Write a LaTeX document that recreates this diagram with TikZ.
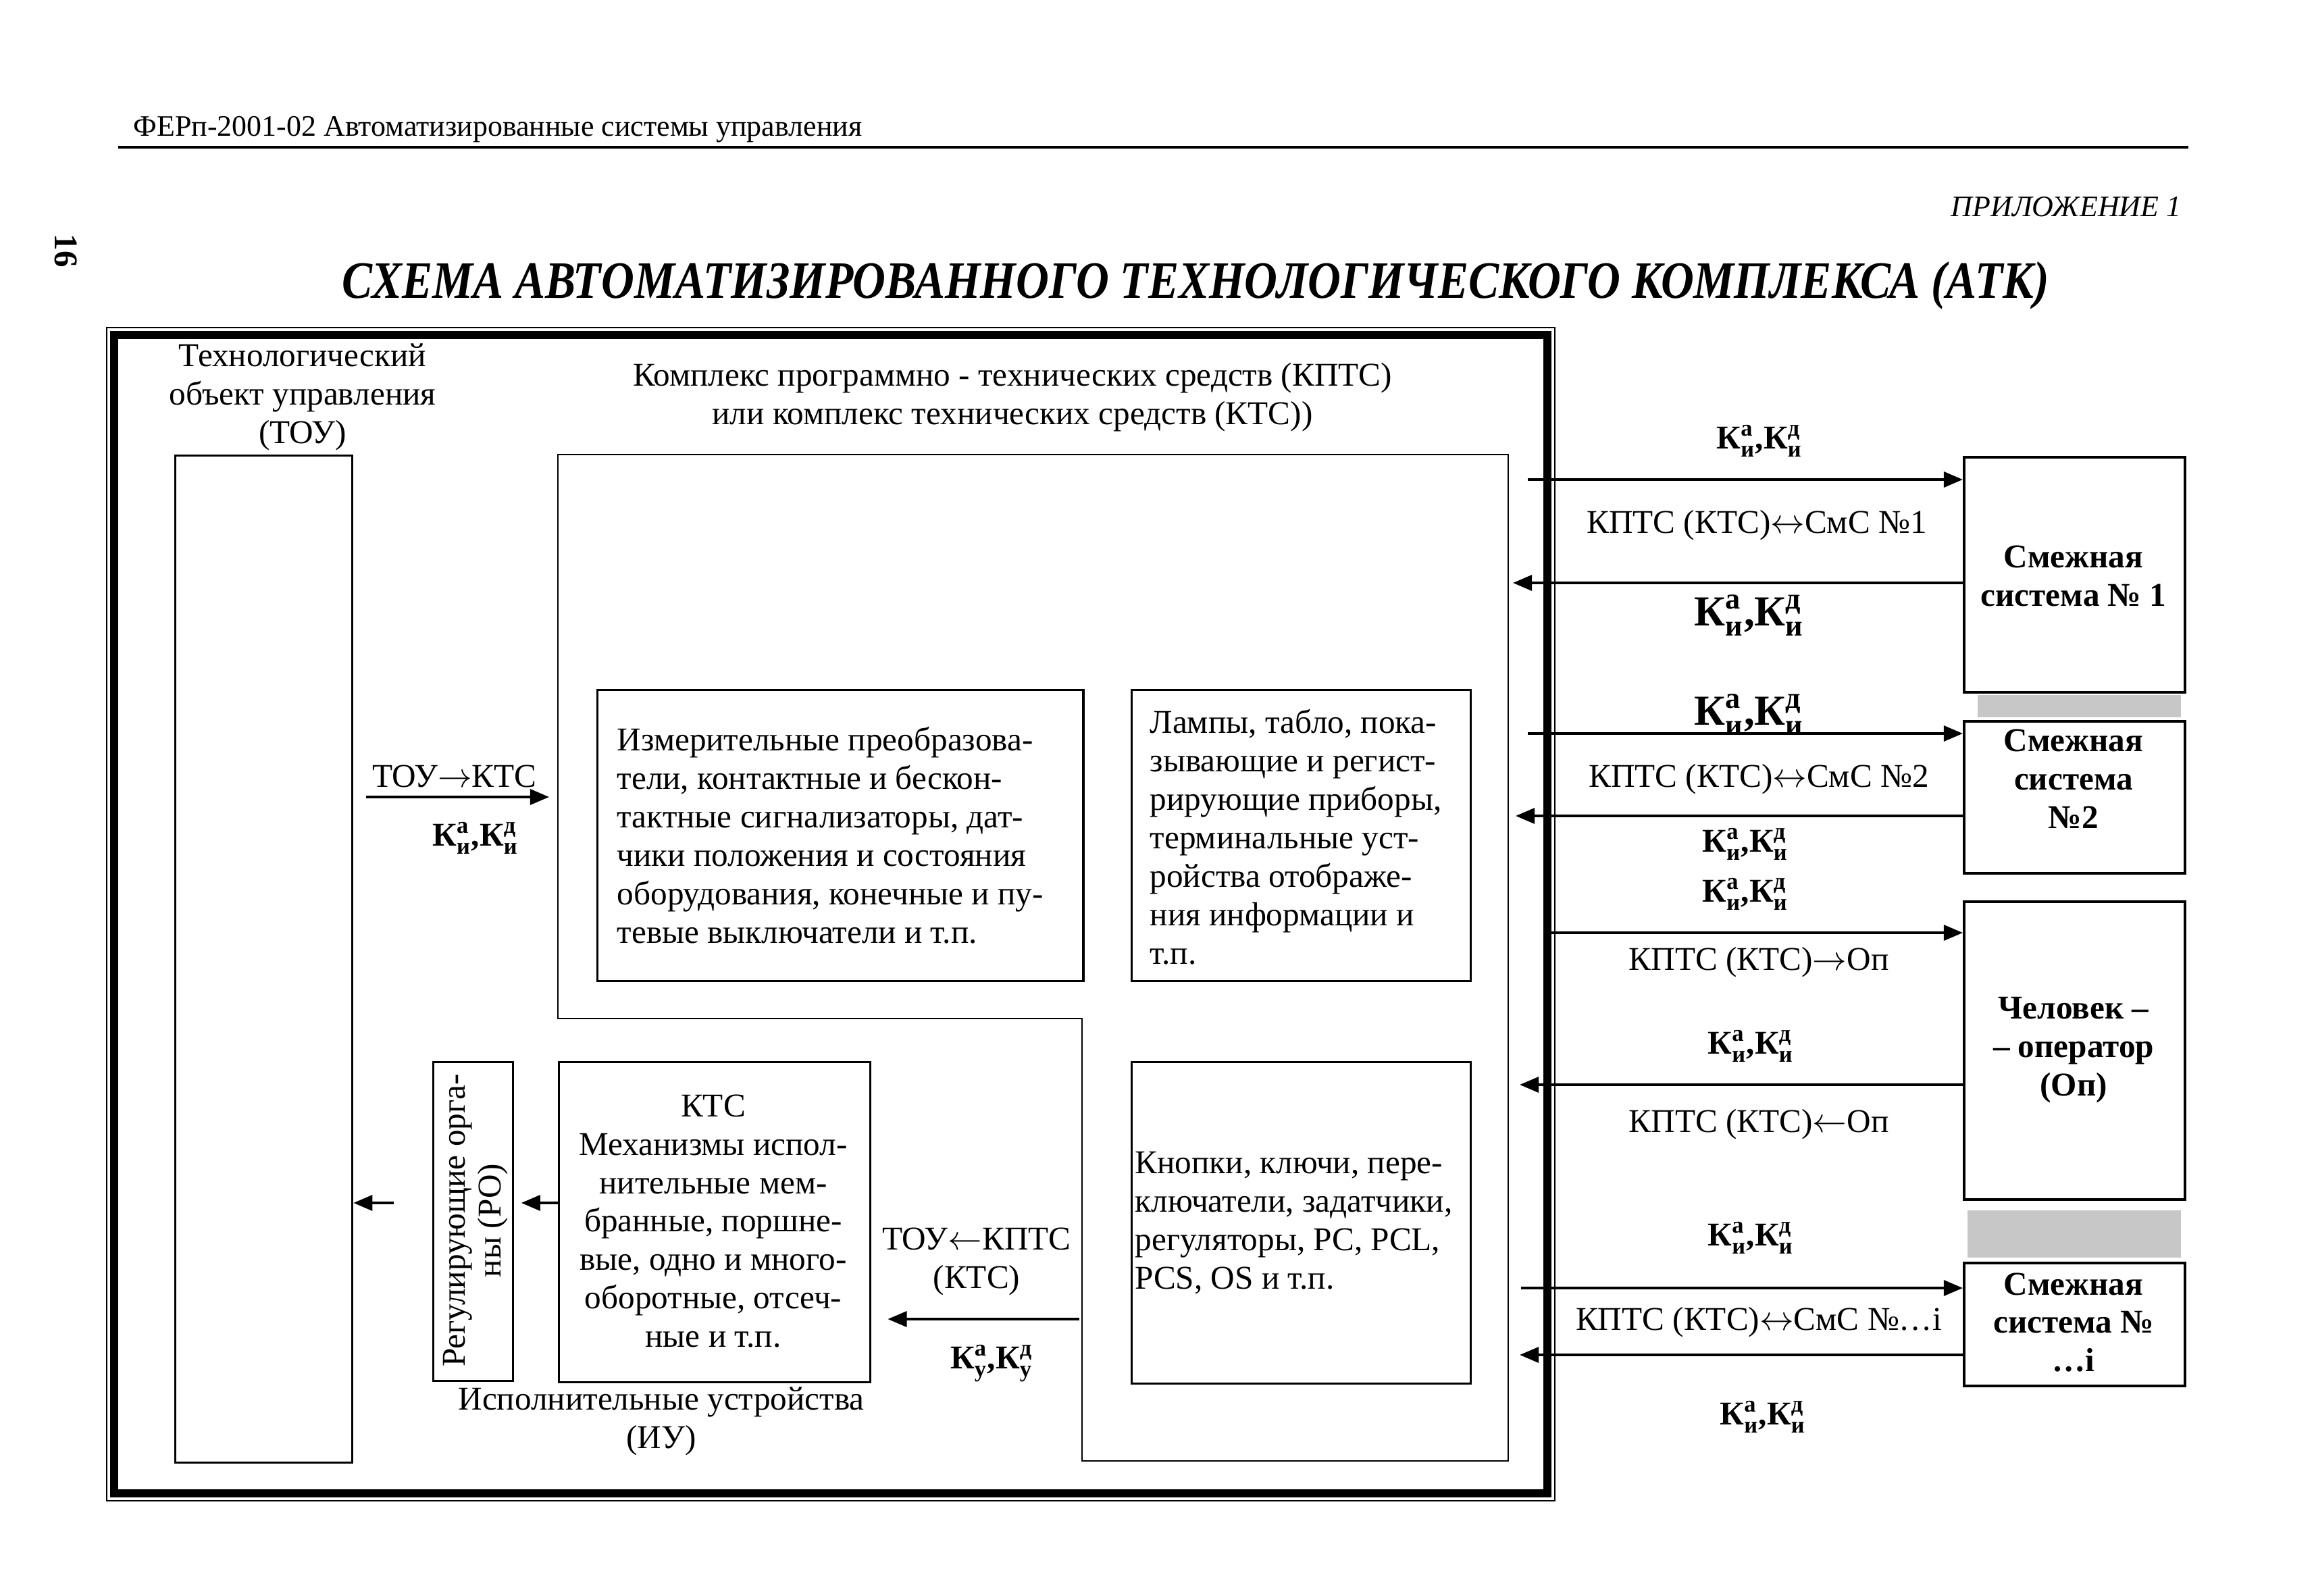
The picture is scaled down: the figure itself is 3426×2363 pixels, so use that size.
\documentclass[tikz,border=0pt]{standalone}
\usepackage{fontspec}
\usepackage{amsmath}
\setmainfont{Liberation Serif}
\usetikzlibrary{arrows.meta}
\newcommand\KK[1]{$\text{К}^{\text{а}}_{\text{#1}}\text{,}\text{К}^{\text{д}}_{\text{#1}}$}
\begin{document}
\begin{tikzpicture}[x=0.01cm,y=-0.01cm,
  box/.style={draw,line width=0.9pt,inner sep=0,anchor=north west},
  rbox/.style={draw,line width=1.2pt,inner sep=0,anchor=north west,minimum width=3.27cm},
  txt/.style={font=\fontsize{14}{16.2}\selectfont,inner sep=0},
  btxt/.style={font=\fontsize{14}{16.2}\selectfont\bfseries,inner sep=0,align=center},
  klab/.style={font=\fontsize{14}{16}\selectfont\bfseries,inner sep=0},
  kbig/.style={font=\fontsize{18}{20}\selectfont\bfseries,inner sep=0},
  arr/.style={line width=1.1pt,-{Triangle[length=8pt,width=6.5pt]}},
  strip/.style={fill=black!22,draw=none}]
\useasboundingbox (0,0) rectangle (3426,2363);
\fill[white] (0,0) rectangle (3426,2363);
% header
\node[font=\fontsize{12.5}{14}\selectfont,anchor=west,inner sep=0] (hdr) at (197,192) {ФЕРп-2001-02 Автоматизированные системы управления};
\draw[line width=1.4pt] (175,218) -- (3240,218);
\node[font=\fontsize{14}{16}\selectfont\bfseries,rotate=-90,inner sep=0] (pg) at (98,371) {16};
\node[font=\fontsize{12.5}{14}\selectfont\itshape,anchor=east,inner sep=0] (app) at (3230,306) {ПРИЛОЖЕНИЕ 1};
\node[anchor=base,inner sep=0] (title) at (1770,441) {\resizebox{25.26cm}{0.54cm}{\bfseries\itshape СХЕМА АВТОМАТИЗИРОВАННОГО ТЕХНОЛОГИЧЕСКОГО КОМПЛЕКСА (АТК)}};
% frame
\draw[line width=0.8pt] (158,485) rectangle (2302,2222);
\draw[line width=3.4pt] (169,496) rectangle (2291,2211);
% TOU
\node[txt,align=center] (toulab) at (448,588) {Технологический\\объект управления\\(ТОУ)};
\node[box,minimum width=2.62cm,minimum height=14.90cm] (tou) at (258,673) {};
% KPTS
\node[txt,align=center] (kptslab) at (1499,588) {Комплекс программно - технических средств (КПТС)\\или комплекс технических средств (КТС))};
\draw[line width=0.8pt] (826,673) -- (2233,673) -- (2233,2163) -- (1602,2163) -- (1602,1508) -- (826,1508) -- cycle;
\node[box,minimum width=7.19cm,minimum height=4.31cm] (izm) at (883,1020) {};
\node[txt,align=left,anchor=west] (izmt) at (913,1237) {Измерительные преобразова-\\тели, контактные и бескон-\\тактные сигнализаторы, дат-\\чики положения и состояния\\оборудования, конечные и пу-\\тевые выключатели и т.п.};
\node[box,minimum width=5.02cm,minimum height=4.31cm] (lamp) at (1674,1020) {};
\node[txt,align=left,anchor=west] (lampt) at (1702,1239) {Лампы, табло, пока-\\зывающие и регист-\\рирующие приборы,\\терминальные уст-\\ройства отображе-\\ния информации и\\т.п.};
\node[box,minimum width=5.02cm,minimum height=4.76cm] (knop) at (1674,1571) {};
\node[txt,align=left,anchor=west] (knopt) at (1680,1811) {Кнопки, ключи, пере-\\ключатели, задатчики,\\регуляторы, PC, PCL,\\PCS, OS и т.п.};
\node[box,minimum width=4.61cm,minimum height=4.74cm] (kts) at (826,1571) {};
\node[txt,align=center] (ktst) at (1056,1808) {КТС\\Механизмы испол-\\нительные мем-\\бранные, поршне-\\вые, одно и много-\\оборотные, отсеч-\\ные и т.п.};
\node[box,minimum width=1.18cm,minimum height=4.72cm] (ro) at (640,1571) {};
\node[font=\fontsize{14}{15}\selectfont,inner sep=0,align=center,rotate=90] (rot) at (704,1807) {Регулирующие орга-\\ны (РО)};
\node[txt,align=center] (iu) at (979,2104) {Исполнительные устройства\\(ИУ)};
% left arrows
\coordinate (a1s) at (542,1180);
\coordinate (a1e) at (813,1180);
\draw[arr] (a1s) -- (a1e);
\node[txt] (a1t) at (673,1149) {ТОУ$\rightarrow$КТС};
\node[klab] (a1k) at (704,1241) {\KK{и}};
\coordinate (y2) at (0,1781);
\draw[arr,shorten >=3pt] (kts.west |- y2) -- (ro.east |- y2);
\coordinate (a3s) at (583,1781);
\draw[arr] (a3s) -- (tou.east |- a3s);
\coordinate (a4s) at (1598,1953);
\draw[arr,shorten >=0.24cm] (a4s) -- (kts.east |- a4s);
\node[txt,align=center] (a4t) at (1446,1868) {ТОУ$\leftarrow$КПТС\\(КТС)};
\node[klab] (a4k) at (1468,2019) {\KK{у}};
% right boxes
\node[rbox,minimum height=3.48cm] (sm1) at (2906,675) {};
\node[btxt] at (3070,853) {Смежная\\система № 1};
\fill[strip] (2928,1029) rectangle (3229,1062);
\node[rbox,minimum height=2.25cm] (sm2) at (2906,1066) {};
\node[btxt] at (3070,1153) {Смежная\\система\\№2};
\node[rbox,minimum height=4.41cm] (op) at (2906,1333) {};
\node[btxt] at (3070,1555) {Человек –\\– оператор\\(Оп)};
\fill[strip] (2913,1792) rectangle (3229,1862);
\node[rbox,minimum height=1.82cm] (smi) at (2906,1868) {};
\node[btxt] at (3070,1958) {Смежная\\система №\\…i};
% right arrows
\coordinate (r1) at (2262,710);
\draw[arr] (r1) -- (sm1.west |- r1);
\coordinate (l1) at (2240,863);
\draw[arr] (sm1.west |- l1) -- (l1);
\coordinate (r2) at (2262,1086);
\draw[arr] (r2) -- (sm2.west |- r2);
\coordinate (l2) at (2244,1208);
\draw[arr] (sm2.west |- l2) -- (l2);
\coordinate (r3) at (2290,1381);
\draw[arr] (r3) -- (op.west |- r3);
\coordinate (l3) at (2250,1606);
\draw[arr] (op.west |- l3) -- (l3);
\coordinate (r4) at (2252,1907);
\draw[arr] (r4) -- (smi.west |- r4);
\coordinate (l4) at (2250,2006);
\draw[arr] (smi.west |- l4) -- (l4);
% right labels
\node[klab] (k1) at (2605,653) {\KK{и}};
\node[txt] (t1) at (2601,778) {КПТС (КТС)$\leftrightarrow$СмС №1};
\node[kbig] (k2) at (2590,911) {\KK{и}};
\node[kbig] (k3) at (2590,1058) {\KK{и}};
\node[txt] (t2) at (2604,1154) {КПТС (КТС)$\leftrightarrow$СмС №2};
\node[klab] (k4) at (2584,1250) {\KK{и}};
\node[klab] (k5) at (2584,1324) {\KK{и}};
\node[txt] (t3) at (2604,1425) {КПТС (КТС)$\rightarrow$Оп};
\node[klab] (k6) at (2592,1549) {\KK{и}};
\node[txt] (t4) at (2604,1665) {КПТС (КТС)$\leftarrow$Оп};
\node[klab] (k7) at (2592,1833) {\KK{и}};
\node[txt] (t5) at (2604,1958) {КПТС (КТС)$\leftrightarrow$СмС №…i};
\node[klab] (k8) at (2610,2098) {\KK{и}};
\end{tikzpicture}
\end{document}
